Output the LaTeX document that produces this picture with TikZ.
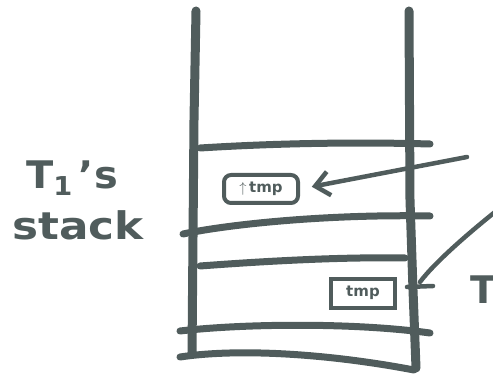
\documentclass[tikz,border=0pt]{standalone}
\usepackage{fontspec}
\setmainfont{DejaVu Sans}
\usetikzlibrary{arrows.meta}
\definecolor{ink}{RGB}{80,92,92}
\tikzset{
  wall/.style={draw=ink, line width=9pt, line cap=round, line join=round},
  shelf/.style={draw=ink, line width=7pt, line cap=round, line join=round},
  pen/.style={draw=ink, line width=4.5pt, line cap=round, line join=round},
  tmpbox/.style={draw=ink, line width=4pt, inner sep=0pt, font=\bfseries\fontsize{15}{16}\selectfont, text=ink},
  hand/.style={text=ink, font=\bfseries\fontsize{38}{40}\selectfont, inner sep=0pt}
}
\begin{document}
\begin{tikzpicture}[x=1pt, y=-1pt]
\useasboundingbox (0,0) rectangle (493,377);
% walls
\draw[wall] (196,11) -- (194,120) -- (192,354);
\draw[wall] (409,11) -- (410,200) -- (413,290) -- (416,368);
% shelves
\draw[shelf] (200,148) .. controls (280,143) and (360,142) .. (430,144);
\draw[shelf] (183,234) .. controls (230,224) and (330,214) .. (430,216);
\draw[shelf] (200,266) .. controls (280,260) and (350,257) .. (405,258);
\draw[shelf] (180,331) .. controls (240,324) and (350,322) .. (430,333);
\draw[shelf] (180,357) .. controls (240,348) and (330,354) .. (414,370);
% tmp boxes
\node[tmpbox, rounded corners=7pt, minimum width=74pt, minimum height=28pt] (tmpa) at (261,189) {$\uparrow$\,tmp};
\node[tmpbox, minimum width=64pt, minimum height=29pt] (tmpb) at (363,293) {tmp};
% label
\node[hand, xscale=1.05, transform shape] (tl) at (72,178) {T\raisebox{-0.35ex}{\fontsize{26}{28}\selectfont 1}\,'s};
\node[hand, xscale=1.15, transform shape] (stk) at (78,225) {stack};
\node[hand, anchor=west] (t2) at (470,290) {T};
% connectors
\coordinate (pa) at (467,157);
\coordinate (pb) at (495,212);
\coordinate (hb) at (420,282);
\draw[pen, -{Straight Barb[length=14pt, width=24pt, line width=4.5pt]}, shorten >=12pt] (pa) -- (tmpa.east);
\draw[pen] (pb) .. controls (470,232) and (435,262) .. (hb);
\draw[pen] (407,287) -- (433,286);
\end{tikzpicture}
\end{document}
